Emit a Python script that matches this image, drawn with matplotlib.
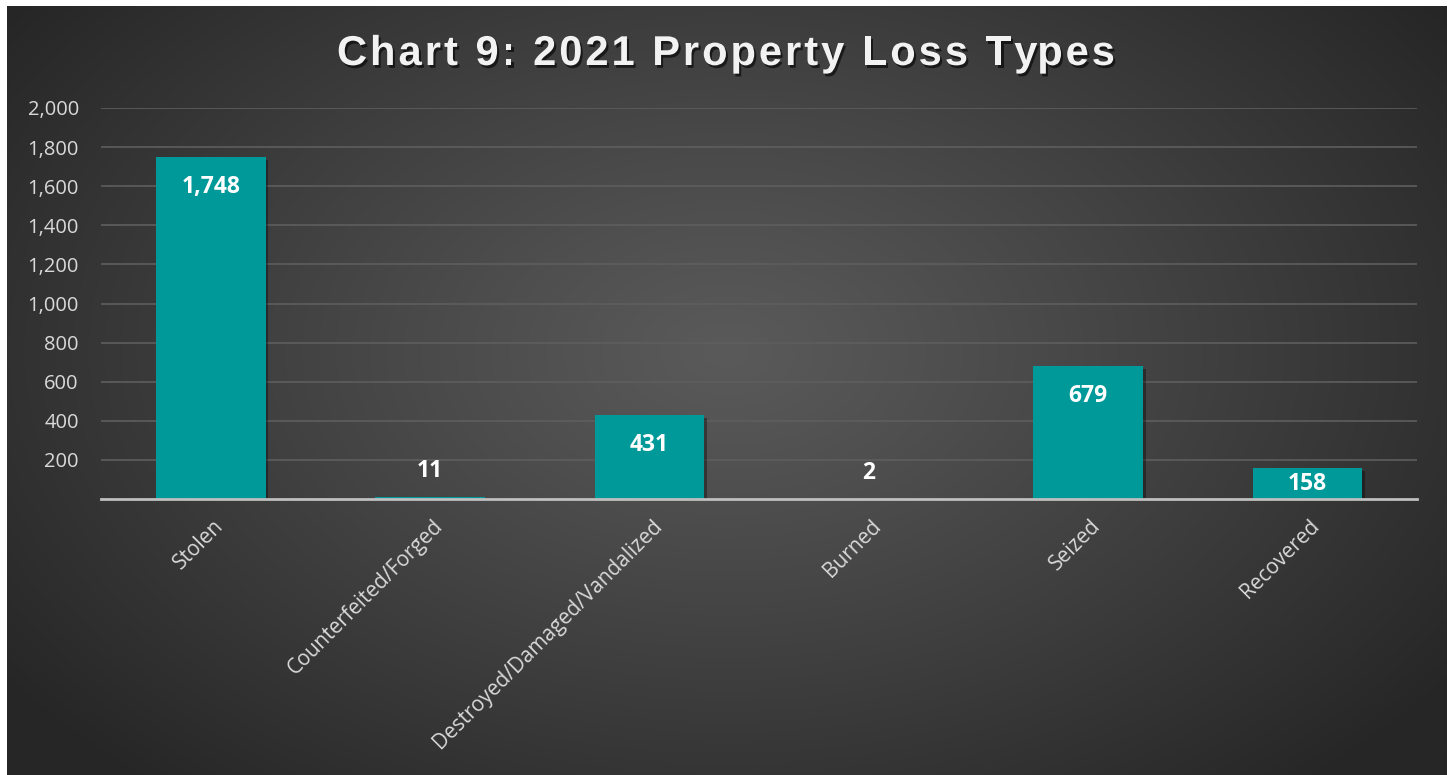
import numpy as np
import matplotlib
matplotlib.use("Agg")
from matplotlib import pyplot as plt
import matplotlib.patheffects as pe

categories = ["Stolen", "Counterfeited/Forged", "Destroyed/Damaged/Vandalized",
              "Burned", "Seized", "Recovered"]
counts = [1748, 11, 431, 2, 679, 158]
y_ticks = [200, 400, 600, 800, 1000, 1200, 1400, 1600, 1800, 2000]
title = "Chart 9: 2021 Property Loss Types"

W, H = 1453, 775
fig = plt.figure(figsize=(W / 100, H / 100), dpi=100, facecolor="white")

# dark radial gradient background, white frame round it
bg = fig.add_axes([7 / W, 0, (1447 - 7) / W, 1 - 6 / H])
bg.set_axis_off()
gx, gy = np.meshgrid(np.linspace(0, 1, 600), np.linspace(0, 1, 320))
r = np.sqrt(((gx - 0.5) / 0.62) ** 2 + ((gy - 0.45) / 0.75) ** 2)
r = np.clip(r, 0, 1)
light, dark = 0x5a / 255, 0x26 / 255
shade = light + (dark - light) * r ** 1.1
img = np.dstack([shade, shade, shade])
bg.imshow(img, aspect="auto", extent=[0, 1, 0, 1], origin="upper")
bg.set_xlim(0, 1)
bg.set_ylim(0, 1)

ax = fig.add_axes([101 / W, 1 - 499 / H, (1417 - 101) / W, (499 - 108) / H])
ax.patch.set_alpha(0)

x = np.arange(len(categories))
bars = ax.bar(x, counts, width=0.5, color="#009999", zorder=3,
              path_effects=[pe.SimplePatchShadow(offset=(2, -2), shadow_rgbFace="black", alpha=0.35),
                            pe.Normal()])

ax.set_xlim(-0.5, len(categories) - 0.5)
ax.set_ylim(0, 2000)
ax.set_yticks(y_ticks)
ax.set_yticklabels([f"{v:,}" for v in y_ticks], fontfamily="Open Sans",
                   fontsize=14.5, color="#d9d9d9")
ax.tick_params(axis="y", length=0, pad=16)
ax.grid(axis="y", color="#5e5e5e", linewidth=1.2, zorder=0)

ax.set_xticks(x)
ax.set_xticklabels(categories, rotation=45, ha="right", rotation_mode="anchor",
                   fontfamily="Open Sans", fontsize=15, color="#d9d9d9")
ax.tick_params(axis="x", length=0, pad=12)
for lbl in ax.get_xticklabels():
    lbl.set_transform(lbl.get_transform() + matplotlib.transforms.ScaledTranslation(0.02, 0, fig.dpi_scale_trans))

for s in ["top", "right", "left"]:
    ax.spines[s].set_visible(False)
ax.spines["bottom"].set_color("#bfbfbf")
ax.spines["bottom"].set_linewidth(2)
ax.spines["bottom"].set_zorder(4)

px_per_unit = (499 - 108) / 2000
for xi, v in zip(x, counts):
    h = v * px_per_unit
    if h > 60:
        off = -30
    elif h > 25:
        off = -h / 2
    else:
        off = 26
    ax.annotate(f"{v:,}", (xi, v), xytext=(0, off), textcoords="offset pixels",
                ha="center", va="center", fontfamily="Open Sans", fontweight="bold",
                fontsize=16.5, color="white", zorder=5)

# title with letter spacing, drawn char by char
renderer = fig.canvas.get_renderer()
tkw = dict(fontfamily="Liberation Sans", fontweight="bold", fontsize=30, color="#f2f2f2")
track = 3.0
def prefix_w(s):
    if not s:
        return 0.0
    t = fig.text(0, 0, s + "|", **tkw)
    w = t.get_window_extent(renderer).width
    t.remove()
    bar_t = fig.text(0, 0, "|", **tkw)
    wb = bar_t.get_window_extent(renderer).width
    bar_t.remove()
    return w - wb
total = prefix_w(title) + track * (len(title) - 1)
x0 = 726 - total / 2
for i, ch in enumerate(title):
    if ch == " ":
        continue
    xp = x0 + prefix_w(title[:i]) + track * i
    fig.text(xp / W, 1 - 65 / H, ch, ha="left", va="baseline", **tkw,
             path_effects=[pe.withSimplePatchShadow(offset=(1.5, -2), shadow_rgbFace="black", alpha=0.6)])

fig.savefig("out.png", dpi=100, facecolor="white")
